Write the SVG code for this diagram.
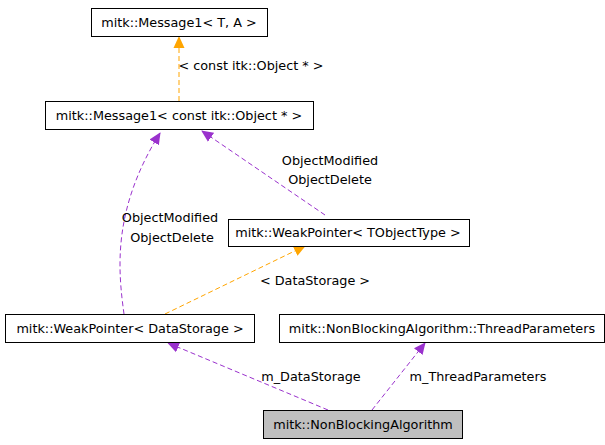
<svg xmlns="http://www.w3.org/2000/svg" width="605" height="445" viewBox="0 0 605 445">
<style>
.n rect{fill:#fff;stroke:#000;stroke-width:1}
text{font-family:"DejaVu Sans",sans-serif;font-size:12.8px;fill:#000;text-anchor:middle}
.o{fill:none;stroke:#ffa500;stroke-dasharray:5,3}
.p{fill:none;stroke:#9a32cd;stroke-dasharray:5,3}
</style>
<defs>
<marker id="ao" markerWidth="12" markerHeight="12" refX="11" refY="6" orient="auto" markerUnits="userSpaceOnUse"><path d="M0,0.5 L12,6 L0,11.5 z" fill="#ffa500"/></marker>
<marker id="ap" markerWidth="12" markerHeight="12" refX="11" refY="6" orient="auto" markerUnits="userSpaceOnUse"><path d="M0,0.5 L12,6 L0,11.5 z" fill="#9a32cd"/></marker>
</defs>
<rect width="605" height="445" fill="#fff"/>
<g id="edges">
<path class="o" d="M179,101 L179,37" marker-end="url(#ao)"/>
<text x="251" y="70">&lt; const itk::Object * &gt;</text>
<path class="p" d="M124,314 C118,270 112,210 160,133" marker-end="url(#ap)"/>
<text x="170" y="222">ObjectModified</text>
<text x="172" y="242">ObjectDelete</text>
<path class="p" d="M325,215 L202,131" marker-end="url(#ap)"/>
<text x="330" y="165">ObjectModified</text>
<text x="330" y="184">ObjectDelete</text>
<path class="o" d="M165,314 L305,246" marker-end="url(#ao)"/>
<text x="315" y="285">&lt; DataStorage &gt;</text>
<path class="p" d="M328,410 L168,343" marker-end="url(#ap)"/>
<text x="311" y="381">m_DataStorage</text>
<path class="p" d="M372,410 L425,343" marker-end="url(#ap)"/>
<text x="478" y="381">m_ThreadParameters</text>
</g>
<g id="n1" class="n"><rect x="91.5" y="8.5" width="176" height="28"/><text x="179" y="27">mitk::Message1&lt; T, A &gt;</text></g>
<g id="n2" class="n"><rect x="45.5" y="101.5" width="268" height="28"/><text x="179" y="120">mitk::Message1&lt; const itk::Object * &gt;</text></g>
<g id="n3" class="n"><rect x="228.5" y="219.5" width="241" height="27"/><text x="348" y="237">mitk::WeakPointer&lt; TObjectType &gt;</text></g>
<g id="n4" class="n"><rect x="5.5" y="314.5" width="249" height="28"/><text x="130" y="333">mitk::WeakPointer&lt; DataStorage &gt;</text></g>
<g id="n5" class="n"><rect x="279.5" y="314.5" width="325" height="28"/><text x="442" y="333">mitk::NonBlockingAlgorithm::ThreadParameters</text></g>
<g id="n6" class="n"><rect x="263.5" y="410.5" width="199" height="28" style="fill:#bfbfbf"/><text x="363" y="429">mitk::NonBlockingAlgorithm</text></g>
</svg>
